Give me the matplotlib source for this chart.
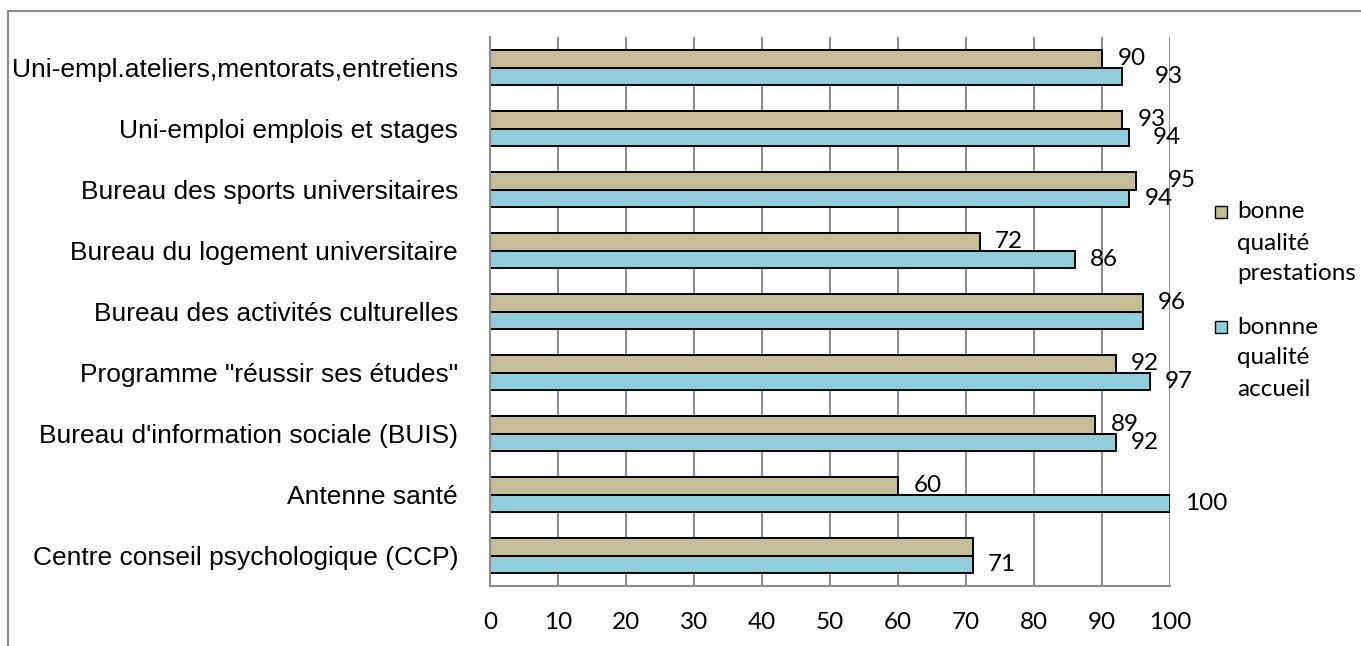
import matplotlib.pyplot as plt
import numpy as np
from matplotlib.patches import Rectangle
from matplotlib.lines import Line2D

# donnees (de haut en bas)
categories = ['Uni-empl.ateliers,mentorats,entretiens',
              'Uni-emploi emplois et stages',
              'Bureau des sports universitaires',
              'Bureau du logement universitaire',
              'Bureau des activités culturelles',
              'Programme "réussir ses études"',
              "Bureau d'information sociale (BUIS)",
              'Antenne santé',
              'Centre conseil psychologique (CCP)']
prestations = [90, 93, 95, 72, 96, 92, 89, 60, 71]
accueil = [93, 94, 94, 86, 96, 97, 92, 100, 71]
series_names = ['bonne\nqualité\nprestations', 'bonnne\nqualité\naccueil']
xticks = [0, 10, 20, 30, 40, 50, 60, 70, 80, 90, 100]

# etiquettes cachees / decalees comme dans Excel
show_prest = [True, True, True, True, True, True, True, True, False]
show_acc = [True, True, True, True, False, True, True, True, True]
shift_prest = [0, 0, 12, 0, 0, 0, 0, 0, 0]
shift_acc = [12, 6, 0, 0, 0, 0, 0, 0, 0]

c_tan = '#C4BD97'
c_blue = '#92CDDC'
c_grid = '#8C8C8C'
W, H = 1361, 646

fig = plt.figure(figsize=(W / 100, H / 100), dpi=100)
ax = fig.add_axes([490 / W, (H - 586) / H, 680 / W, 549 / H])

y = np.arange(len(categories))[::-1]
h = 0.287
ax.barh(y + h / 2, prestations, height=h, color=c_tan, edgecolor='black', linewidth=1.4)
ax.barh(y - h / 2, accueil, height=h, color=c_blue, edgecolor='black', linewidth=1.4)

lab_font = dict(family=['Lato', 'DejaVu Sans'], fontsize=17.5)
for i in range(len(categories)):
    if show_prest[i]:
        ax.annotate(str(prestations[i]), (prestations[i], y[i] + h / 2),
                    xytext=(11 + shift_prest[i], 0), textcoords='offset points',
                    va='center', ha='left', **lab_font)
    if show_acc[i]:
        ax.annotate(str(accueil[i]), (accueil[i], y[i] - h / 2),
                    xytext=(11 + shift_acc[i], 0), textcoords='offset points',
                    va='center', ha='left', **lab_font)

ax.set_xlim(0, 100)
ax.set_ylim(-0.5, len(categories) - 0.5)
ax.set_xticks(xticks)
ax.set_xticklabels([str(t) for t in xticks], **lab_font)
ax.set_yticks(y)
ax.set_yticklabels(categories, family=['Liberation Sans', 'DejaVu Sans'], fontsize=19)
ax.tick_params(length=0)
ax.tick_params(axis='y', pad=23)
ax.tick_params(axis='x', pad=19)
ax.grid(axis='x', color=c_grid, linewidth=1.4)
ax.set_axisbelow(True)
for s in ['top', 'right']:
    ax.spines[s].set_visible(False)
for s in ['left', 'bottom']:
    ax.spines[s].set_color(c_grid)
    ax.spines[s].set_linewidth(1.5)

# legende
leg_top = [212, 327]
for k, (name, col) in enumerate(zip(series_names, [c_tan, c_blue])):
    yc = leg_top[k]
    fig.patches.append(Rectangle((1215 / W, (H - yc - 6) / H), 12 / W, 12 / H,
                                 transform=fig.transFigure, facecolor=col,
                                 edgecolor='black', linewidth=1.0))
    for j, line in enumerate(name.split('\n')):
        fig.text(1237 / W, (H - yc - 31 * j) / H, line, va='center', ha='left', **lab_font)

# cadre du graphique
fig.add_artist(Line2D([8 / W, 8 / W], [0, (H - 11) / H], color='#8C8C8C', linewidth=1.5))
fig.add_artist(Line2D([8 / W, 1], [(H - 11) / H, (H - 11) / H], color='#8C8C8C', linewidth=1.5))

fig.savefig('out.png', dpi=100)
